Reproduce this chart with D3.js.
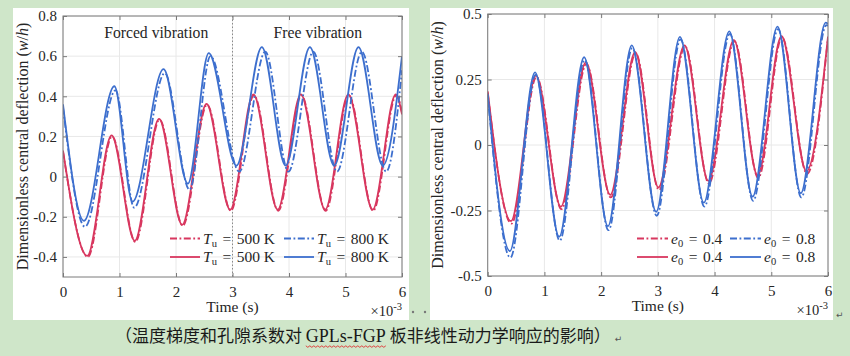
<!DOCTYPE html>
<html><head><meta charset="utf-8">
<script src="https://cdn.jsdelivr.net/npm/d3@7"></script>
<style>body{margin:0;background:#cfe6c9;} svg{display:block}</style>
</head><body>
<svg id="c" width="850" height="356"></svg>
<script>
// ---------- data (time in 1e-3 s, dimensionless deflection w/h) ----------
const timeTicks = [0, 1, 2, 3, 4, 5, 6];
const leftYTicks = [-0.4, -0.2, 0, 0.2, 0.4, 0.6, 0.8];
const leftYTickLabels = ["-0.4", "-0.2", "0", "0.2", "0.4", "0.6", "0.8"];
const rightYTicks = [-0.5, -0.25, 0, 0.25, 0.5];
const rightYTickLabels = ["-0.5", "-0.25", "0", "0.25", "0.5"];

// Left panel: temperature Tu
const t500Solid = [0, 0.43, 0.86, 1.27, 1.70, 2.11, 2.54, 2.96, 3.37, 3.80, 4.21, 4.64, 5.05, 5.48, 5.89, 6.0];
const v500Solid = [0.13, -0.395, 0.205, -0.32, 0.288, -0.24, 0.362, -0.165, 0.41, -0.165, 0.41, -0.165, 0.41, -0.165, 0.41, 0.31];
const t500Dash  = [0, 0.44, 0.87, 1.28, 1.71, 2.12, 2.55, 2.97, 3.38, 3.81, 4.22, 4.65, 5.06, 5.49, 5.90, 6.0];
const v500Dash  = [0.125, -0.40, 0.20, -0.325, 0.284, -0.245, 0.358, -0.17, 0.405, -0.17, 0.405, -0.17, 0.405, -0.17, 0.405, 0.32];
const t800Solid = [0, 0.37, 0.91, 1.23, 1.78, 2.21, 2.58, 3.07, 3.52, 3.94, 4.37, 4.80, 5.23, 5.66, 6.0];
const v800Solid = [0.36, -0.22, 0.45, -0.125, 0.535, -0.035, 0.615, 0.055, 0.645, 0.055, 0.645, 0.055, 0.645, 0.055, 0.60];
const t800Dash  = [0, 0.39, 0.93, 1.26, 1.80, 2.24, 2.61, 3.12, 3.58, 3.99, 4.43, 4.85, 5.29, 5.72, 6.0];
const v800Dash  = [0.345, -0.25, 0.43, -0.155, 0.515, -0.065, 0.60, 0.025, 0.622, 0.025, 0.622, 0.025, 0.622, 0.025, 0.53];

// Right panel: porosity e0
const te04Solid = [0, 0.41, 0.85, 1.29, 1.73, 2.16, 2.60, 3.01, 3.47, 3.89, 4.34, 4.76, 5.18, 5.62, 6.0];
const ve04Solid = [0.205, -0.29, 0.265, -0.235, 0.315, -0.19, 0.354, -0.162, 0.38, -0.137, 0.40, -0.116, 0.415, -0.1, 0.414];
const te04Dash  = [0, 0.42, 0.86, 1.30, 1.74, 2.17, 2.61, 3.02, 3.48, 3.90, 4.35, 4.77, 5.19, 5.63, 6.0];
const ve04Dash  = [0.20, -0.30, 0.26, -0.245, 0.31, -0.20, 0.35, -0.172, 0.376, -0.147, 0.396, -0.126, 0.411, -0.11, 0.41];
const te08Solid = [0, 0.39, 0.835, 1.26, 1.70, 2.12, 2.54, 2.97, 3.39, 3.81, 4.26, 4.67, 5.11, 5.52, 5.96, 6.0];
const ve08Solid = [0.195, -0.405, 0.277, -0.35, 0.335, -0.31, 0.38, -0.255, 0.413, -0.22, 0.434, -0.197, 0.452, -0.184, 0.467, 0.462];
const te08Dash  = [0, 0.40, 0.845, 1.27, 1.71, 2.13, 2.55, 2.98, 3.40, 3.82, 4.27, 4.68, 5.12, 5.53, 5.97, 6.0];
const ve08Dash  = [0.19, -0.43, 0.268, -0.365, 0.325, -0.325, 0.37, -0.27, 0.403, -0.235, 0.424, -0.213, 0.442, -0.2, 0.457, 0.455];

const leftLabels = ["Forced vibration", "Free vibration"];
const leftLabelT = [1.65, 4.51];
const switchTime = 3;
const captionParts = ["（温度梯度和孔隙系数对 ", "GPLs-FGP", " 板非线性动力学响应的影响）"];

// ---------- styles ----------
const RED = "#d8375f", BLUE = "#3d6fce";
const DASH = "7,2.5,1.8,2.5";
const TXT = "#262626";
const SERIF = "'Liberation Serif','Times New Roman',serif";
const zip = (a, b) => a.map((d, i) => [d, b[i]]);

const svg = d3.select("#c");
svg.append("rect").attr("width", 850).attr("height", 356).attr("fill", "#cfe6c9");
svg.append("rect").attr("x", 13).attr("y", 8).attr("width", 396).attr("height", 312).attr("fill", "#fff");
svg.append("rect").attr("x", 430).attr("y", 8).attr("width", 403).attr("height", 312).attr("fill", "#fff");

function panel(cfg) {
  const x = d3.scaleLinear().domain([0, 6]).range([cfg.x0, cfg.x1]);
  const y = d3.scaleLinear().domain(cfg.yDomain).range([cfg.y1, cfg.y0]);
  const g = svg.append("g");
  const id = "clip" + cfg.id;
  svg.append("clipPath").attr("id", id).append("rect")
    .attr("x", cfg.x0).attr("y", cfg.y0).attr("width", cfg.x1 - cfg.x0).attr("height", cfg.y1 - cfg.y0);
  // grid
  g.selectAll(".gx").data(timeTicks).join("line")
    .attr("x1", d => x(d)).attr("x2", d => x(d)).attr("y1", cfg.y0).attr("y2", cfg.y1)
    .attr("stroke", "#e8e8e8").attr("stroke-width", 1);
  g.selectAll(".gy").data(cfg.yTicks).join("line")
    .attr("class", "gy")
    .attr("y1", d => y(d)).attr("y2", d => y(d)).attr("x1", cfg.x0).attr("x2", cfg.x1)
    .attr("stroke", "#e8e8e8").attr("stroke-width", 1);
  if (cfg.extra) cfg.extra(g, x, y);
  // curves
  const line = d3.line().x(d => x(d[0])).y(d => y(d[1])).curve(d3.curveMonotoneX);
  const cg = g.append("g").attr("clip-path", `url(#${id})`);
  cfg.series.forEach(s => {
    cg.append("path").attr("d", line(s.data)).attr("fill", "none")
      .attr("stroke", s.color).attr("stroke-width", 1.8)
      .attr("stroke-dasharray", s.dash ? DASH : null);
  });
  // axes (bottom / left with labels) + mirrored ticks
  const ax = g.append("g").attr("transform", `translate(0,${cfg.y1})`)
    .call(d3.axisBottom(x).tickValues(timeTicks).tickFormat(d3.format("d")).tickSizeInner(-4).tickSizeOuter(0).tickPadding(9));
  const ay = g.append("g").attr("transform", `translate(${cfg.x0},0)`)
    .call(d3.axisLeft(y).tickValues(cfg.yTicks).tickFormat((d, i) => cfg.yLabels[i]).tickSizeInner(-4).tickSizeOuter(0).tickPadding(6));
  const at = g.append("g").attr("transform", `translate(0,${cfg.y0})`)
    .call(d3.axisTop(x).tickValues(timeTicks).tickFormat("").tickSizeInner(-4).tickSizeOuter(0));
  const ar = g.append("g").attr("transform", `translate(${cfg.x1},0)`)
    .call(d3.axisRight(y).tickValues(cfg.yTicks).tickFormat("").tickSizeInner(-4).tickSizeOuter(0));
  [ax, ay, at, ar].forEach(a => {
    a.attr("font-family", SERIF).attr("font-size", 15);
    a.select(".domain").remove();
    a.selectAll("line").attr("stroke", "#7a7a7a");
    a.selectAll("text").attr("font-family", SERIF).attr("font-size", 15).attr("fill", TXT);
  });
  g.append("rect").attr("x", cfg.x0).attr("y", cfg.y0).attr("width", cfg.x1 - cfg.x0).attr("height", cfg.y1 - cfg.y0)
    .attr("fill", "none").attr("stroke", "#7a7a7a").attr("stroke-width", 1);
  // x label
  g.append("text").attr("x", (cfg.x0 + cfg.x1) / 2).attr("y", cfg.y1 + 35).attr("text-anchor", "middle")
    .attr("font-family", SERIF).attr("font-size", 15.5).attr("fill", TXT).text("Time (s)");
  const mult = g.append("text").attr("x", cfg.x1).attr("y", cfg.y1 + 39).attr("text-anchor", "end")
    .attr("font-family", SERIF).attr("font-size", 14.5).attr("fill", TXT);
  mult.append("tspan").text("×10");
  mult.append("tspan").attr("dy", -6).attr("font-size", 10.5).text("-3");
  // y label
  const yl = g.append("text").attr("transform", `translate(${cfg.ylx},${(cfg.y0 + cfg.y1) / 2}) rotate(-90)`)
    .attr("text-anchor", "middle").attr("dominant-baseline", "middle")
    .attr("font-family", SERIF).attr("font-size", 16).attr("fill", TXT);
  yl.append("tspan").text("Dimensionless central deflection (");
  yl.append("tspan").attr("font-style", "italic").text("w");
  yl.append("tspan").text("/");
  yl.append("tspan").attr("font-style", "italic").text("h");
  yl.append("tspan").text(")");
  // legend (2 columns, transparent)
  const leg = g.append("g");
  cfg.legend.forEach((e, i) => {
    const col = Math.floor(i / 2), row = i % 2;
    const lx = cfg.legX[col], ly = cfg.legY + row * 18.5;
    leg.append("line").attr("x1", lx).attr("x2", lx + cfg.legLen).attr("y1", ly).attr("y2", ly)
      .attr("stroke", e.color).attr("stroke-width", 1.8).attr("stroke-dasharray", e.dash ? DASH : null);
    const t = leg.append("text").attr("x", lx + cfg.legLen + 3).attr("y", ly + 5)
      .attr("font-family", SERIF).attr("font-size", 15.5).attr("fill", TXT);
    t.append("tspan").attr("font-style", "italic").text(e.sym);
    t.append("tspan").attr("font-size", 10.5).attr("dy", 3).text(e.sub);
    t.append("tspan").attr("dy", -3).attr("dx", 5.5).text("=");
    t.append("tspan").attr("dx", 5.5).text(e.val);
  });
  return { x, y, g };
}

// Left panel
panel({
  id: "L", x0: 63, x1: 402, y0: 16, y1: 277, yDomain: [-0.5, 0.8],
  yTicks: leftYTicks, yLabels: leftYTickLabels, ylx: 24,
  extra: (g, x, y) => {
    g.append("line").attr("x1", x(switchTime)).attr("x2", x(switchTime)).attr("y1", 16).attr("y2", 277)
      .attr("stroke", "#8a8a8a").attr("stroke-width", 1).attr("stroke-dasharray", "1.5,2");
    leftLabels.forEach((s, i) => {
      g.append("text").attr("x", x(leftLabelT[i])).attr("y", y(0.69)).attr("text-anchor", "middle")
        .attr("font-family", SERIF).attr("font-size", 15.7).attr("fill", TXT).text(s);
    });
  },
  series: [
    { data: zip(t500Dash, v500Dash), color: RED, dash: true },
    { data: zip(t500Solid, v500Solid), color: RED },
    { data: zip(t800Dash, v800Dash), color: BLUE, dash: true },
    { data: zip(t800Solid, v800Solid), color: BLUE }
  ],
  legend: [
    { color: RED, dash: true, sym: "T", sub: "u", val: "500 K" },
    { color: RED, sym: "T", sub: "u", val: "500 K" },
    { color: BLUE, dash: true, sym: "T", sub: "u", val: "800 K" },
    { color: BLUE, sym: "T", sub: "u", val: "800 K" }
  ],
  legX: [170, 284], legY: 238.5, legLen: 30
});

// Right panel
panel({
  id: "R", x0: 487.7, x1: 828, y0: 14, y1: 276, yDomain: [-0.5, 0.5],
  yTicks: rightYTicks, yLabels: rightYTickLabels, ylx: 439,
  series: [
    { data: zip(te04Dash, ve04Dash), color: RED, dash: true },
    { data: zip(te04Solid, ve04Solid), color: RED },
    { data: zip(te08Dash, ve08Dash), color: BLUE, dash: true },
    { data: zip(te08Solid, ve08Solid), color: BLUE }
  ],
  legend: [
    { color: RED, dash: true, sym: "e", sub: "0", val: "0.4" },
    { color: RED, sym: "e", sub: "0", val: "0.4" },
    { color: BLUE, dash: true, sym: "e", sub: "0", val: "0.8" },
    { color: BLUE, sym: "e", sub: "0", val: "0.8" }
  ],
  legX: [637, 730], legY: 238.5, legLen: 31
});

// small document marks
svg.append("circle").attr("cx", 413).attr("cy", 312).attr("r", 1.2).attr("fill", "#777");
svg.append("circle").attr("cx", 425).attr("cy", 312).attr("r", 1.2).attr("fill", "#777");
svg.append("text").attr("x", 836).attr("y", 318).attr("font-family", "DejaVu Sans").attr("font-size", 9).attr("fill", "#555").text("↵");

// caption
const CJK = "'Noto Sans CJK SC','Noto Sans CJK JP',sans-serif";
let cx = 115;
const capY = 342;
captionParts.forEach((s, i) => {
  const t = svg.append("text").attr("x", cx).attr("y", capY).attr("font-size", i === 1 ? 18 : 17)
    .attr("font-family", i === 1 ? SERIF : CJK).attr("fill", "#1a1a1a").attr("xml:space", "preserve")
    .style("white-space", "pre").text(s);
  const w = t.node().getComputedTextLength();
  if (i === 1) {
    const pts = [];
    for (let xx = cx, k = 0; xx <= cx + w; xx += 2, k++) pts.push([xx, capY + 4 + (k % 2 ? 1.3 : -0.2)]);
    svg.append("path").attr("d", d3.line()(pts)).attr("fill", "none").attr("stroke", "#e03030").attr("stroke-width", 0.9);
  }
  cx += w;
});
svg.append("text").attr("x", cx + 4).attr("y", capY).attr("font-family", "DejaVu Sans").attr("font-size", 9)
  .attr("fill", "#555").text("↵");
</script>
</body></html>
